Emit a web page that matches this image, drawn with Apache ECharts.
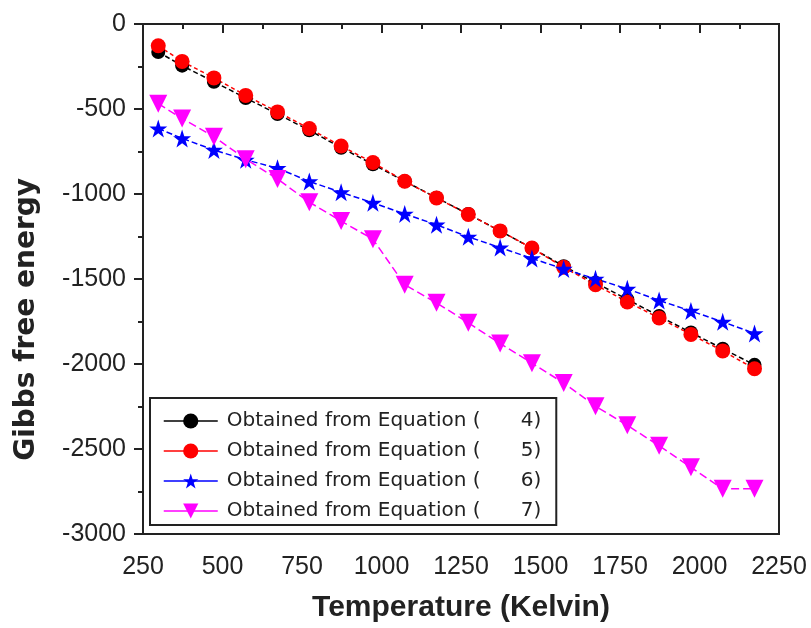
<!DOCTYPE html>
<html>
<head>
<meta charset="utf-8">
<script src="https://cdn.jsdelivr.net/npm/echarts@6/dist/echarts.min.js"></script>
<style>html,body{margin:0;padding:0;background:#fff;}#c{width:811px;height:628px;}</style>
</head>
<body>
<div id="c"></div>
<script>
const temperatures = [298, 373, 473, 573, 673, 773, 873, 973, 1073, 1173, 1273, 1373, 1473, 1573, 1673, 1773, 1873, 1973, 2073, 2173];
const eq4 = [-165, -245, -340, -435, -530, -625, -728, -825, -925, -1022, -1118, -1218, -1318, -1425, -1522, -1620, -1718, -1815, -1910, -2005];
const eq5 = [-128, -220, -317, -420, -517, -615, -718, -815, -925, -1023, -1120, -1217, -1318, -1431, -1534, -1635, -1729, -1826, -1923, -2028];
const eq6 = [-615, -673, -741, -799, -848, -926, -990, -1052, -1117, -1181, -1252, -1315, -1379, -1441, -1499, -1558, -1626, -1688, -1752, -1820];
const eq7 = [-469, -556, -663, -795, -912, -1048, -1159, -1266, -1534, -1640, -1758, -1879, -1995, -2112, -2248, -2361, -2481, -2608, -2734, -2734];
const seriesNames = ['Obtained from Equation (    4)', 'Obtained from Equation (    5)', 'Obtained from Equation (    6)', 'Obtained from Equation (    7)'];
const xTitle = 'Temperature (Kelvin)';
const yTitle = 'Gibbs free energy';
const xTicks = {min: 250, max: 2250, interval: 250};
const yTicks = {min: -3000, max: 0, interval: 500};

function pairs(vals) { return temperatures.map((t, i) => [t, vals[i]]); }

const chart = echarts.init(document.getElementById('c'));
const mk = (name, vals, color, symbol, size, dash) => ({
  name, type: 'line', data: pairs(vals), symbol, symbolSize: size,
  lineStyle: {color, width: 1.5, type: dash},
  itemStyle: {color},
  emphasis: {disabled: true}, animation: false
});
const axisCommon = {
  axisLine: {lineStyle: {color: '#222', width: 2}},
  axisTick: {inside: false, length: 9, lineStyle: {color: '#222', width: 2}},
  minorTick: {show: true, splitNumber: 2, length: 5, lineStyle: {color: '#222', width: 2}},
  splitLine: {show: false}
};
chart.setOption({
  animation: false,
  grid: {left: 143, right: 32, top: 24, bottom: 90, show: true, borderColor: '#222', borderWidth: 2},
  legend: {
    orient: 'vertical', left: 150, top: 398,
    padding: [13, 15, 4, 13], itemGap: 10, itemWidth: 54, itemHeight: 19,
    borderColor: '#222', borderWidth: 2,
    lineStyle: {type: 'solid', width: 1.5},
    formatter: function (name) {
      const i = name.indexOf('(');
      return '{a|' + name.slice(0, i + 1) + '}{b|' + name.slice(i + 1).trim() + '}';
    },
    textStyle: {
      fontFamily: 'DejaVu Sans', fontSize: 20, color: '#222',
      rich: {
        a: {fontFamily: 'DejaVu Sans', fontSize: 20, color: '#222', width: 294, padding: [0, 0, 0, 4]},
        b: {fontFamily: 'DejaVu Sans', fontSize: 20, color: '#222'}
      }
    },
    data: seriesNames
  },
  graphic: [{
    type: 'text', left: 13, top: 178, rotation: Math.PI / 2,
    style: {text: yTitle, font: 'bold 28px "DejaVu Sans"', fill: '#222'}
  }],
  xAxis: Object.assign({
    type: 'value', min: xTicks.min, max: xTicks.max, interval: xTicks.interval,
    name: xTitle, nameLocation: 'middle', nameGap: 59,
    nameTextStyle: {fontFamily: 'Liberation Sans', fontWeight: 'bold', fontSize: 30, color: '#222'},
    axisLabel: {fontFamily: 'Liberation Sans', fontSize: 25, color: '#222', margin: 21, formatter: v => String(v)}
  }, axisCommon),
  yAxis: Object.assign({
    type: 'value', min: yTicks.min, max: yTicks.max, interval: yTicks.interval,
    axisLabel: {fontFamily: 'Liberation Sans', fontSize: 25, color: '#222', margin: 17, formatter: v => String(v)}
  }, axisCommon),
  series: [
    mk(seriesNames[0], eq4, '#000000', 'circle', 14, [5, 3]),
    mk(seriesNames[1], eq5, '#ff0000', 'circle', 15, [4, 3]),
    mk(seriesNames[2], eq6, '#0000ff', 'path://M50,0 L61.8,35.3 L99,35.3 L69.1,57.3 L80.9,92.7 L50,70.7 L19.1,92.7 L30.9,57.3 L1,35.3 L38.2,35.3 Z', 18, [6, 3]),
    mk(seriesNames[3], eq7, '#ff00ff', 'path://M0,0 L100,0 L50,90 Z', 18, [8, 4])
  ]
});
</script>
</body>
</html>
